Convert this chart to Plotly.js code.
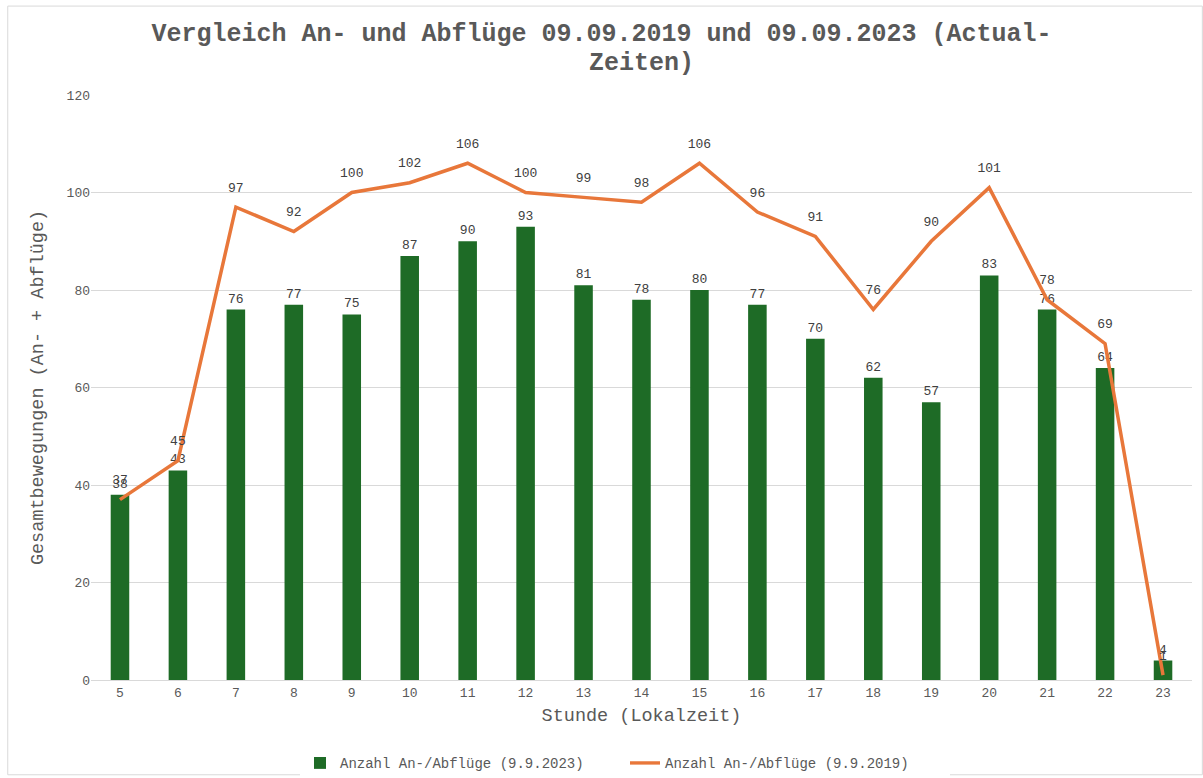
<!DOCTYPE html>
<html>
<head>
<meta charset="utf-8">
<script src="https://cdn.plot.ly/plotly-3.0.1.min.js"></script>
<style>html,body{margin:0;padding:0;background:#fff;}#chart{width:1203px;height:778px;}</style>
</head>
<body>
<div id="chart"></div>
<script>
const hours = ['5','6','7','8','9','10','11','12','13','14','15','16','17','18','19','20','21','22','23'];
const values2023 = [38,43,76,77,75,87,90,93,81,78,80,77,70,62,57,83,76,64,4];
const values2019 = [37,45,97,92,100,102,106,100,99,98,106,96,91,76,90,101,78,69,1];
const name2023 = 'Anzahl An-/Abflüge (9.9.2023)';
const name2019 = 'Anzahl An-/Abflüge (9.9.2019)';
const titleLine1 = 'Vergleich An- und Abflüge 09.09.2019 und 09.09.2023 (Actual-';
const titleLine2 = 'Zeiten)';

const FONT = '"Liberation Mono", "Courier New", monospace';
const GREY = '#595959';

const traces = [
  {
    type: 'bar', x: hours, y: values2023, name: name2023,
    marker: {color: '#1e6b26'},
    text: values2023.map(String), textposition: 'outside',
    textfont: {family: FONT, size: 13, color: '#404040'},
    cliponaxis: false
  },
  {
    type: 'scatter', mode: 'lines+markers+text', x: hours, y: values2019, name: name2019,
    line: {color: '#e8773a', width: 3.5},
    marker: {size: 18, color: 'rgba(0,0,0,0)'},
    text: values2019.map(String), textposition: 'top center',
    textfont: {family: FONT, size: 13, color: '#404040'},
    cliponaxis: false
  }
];

const layout = {
  width: 1203, height: 778,
  margin: {l: 91, r: 11, t: 95, b: 98, autoexpand: false},
  paper_bgcolor: '#fff', plot_bgcolor: '#fff',
  font: {family: FONT, color: GREY, size: 13},
  title: {text: '<b>' + titleLine1 + '</b>',
          x: 0.5, xanchor: 'center', yref: 'container', y: 1 - 32/778, yanchor: 'middle',
          font: {family: FONT, size: 25, color: GREY}},
  annotations: [{text: '<b>' + titleLine2 + '</b>', xref: 'paper', yref: 'paper',
                 x: 0.5, xanchor: 'center', y: (680 - 64) / 585, yanchor: 'middle', showarrow: false,
                 font: {family: FONT, size: 25, color: GREY}}],
  bargap: 0.68,
  xaxis: {
    type: 'category', automargin: false, range: [-0.5, hours.length - 0.5],
    title: {text: 'Stunde (Lokalzeit)', font: {family: FONT, size: 18.5, color: GREY}, standoff: 8},
    tickfont: {family: FONT, size: 13, color: GREY},
    showline: true, linecolor: '#d9d9d9', linewidth: 1,
    ticks: '', showgrid: false
  },
  yaxis: {
    range: [0, 120], dtick: 20, automargin: false,
    title: {text: 'Gesamtbewegungen (An- + Abflüge)', font: {family: FONT, size: 18.5, color: GREY}, standoff: 18},
    tickfont: {family: FONT, size: 13, color: GREY},
    gridcolor: '#d9d9d9', zeroline: false, ticks: '', ticklen: 0
  },
  legend: {
    orientation: 'h', x: (300 - 91) / 1101, xanchor: 'left', y: -0.115, yanchor: 'top',
    font: {family: FONT, size: 14, color: GREY},
    entrywidth: 280, entrywidthmode: 'pixels', itemwidth: 30
  },
  shapes: [{type: 'rect', xref: 'paper', yref: 'paper', x0: -0.0756, x1: 1.0094, y0: -0.162, y1: 1.152,
            line: {color: '#d9d9d9', width: 1}, fillcolor: 'rgba(0,0,0,0)'}],
  showlegend: true
};

Plotly.newPlot('chart', traces, layout, {displayModeBar: false});
</script>
</body>
</html>
